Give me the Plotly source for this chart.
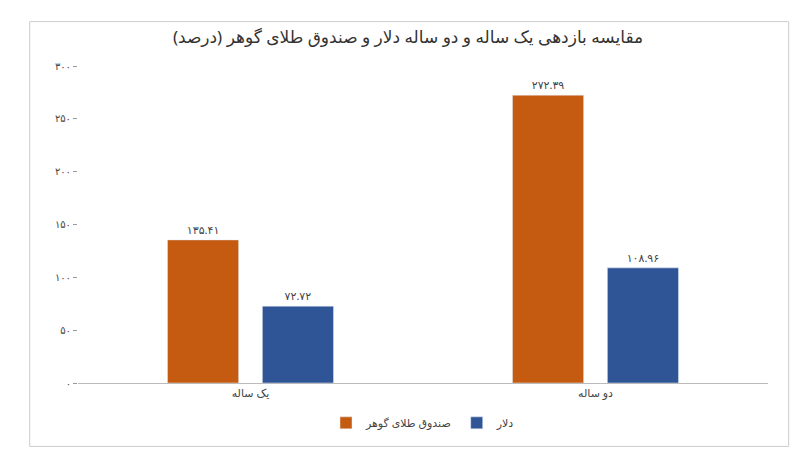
import plotly.graph_objects as go

categories = ["یک ساله", "دو ساله"]
gold = [135.41, 272.39]
dollar = [72.72, 108.96]
gold_labels = ["۱۳۵.۴۱", "۲۷۲.۳۹"]
dollar_labels = ["۷۲.۷۲", "۱۰۸.۹۶"]
tick_vals = [0, 50, 100, 150, 200, 250, 300]
tick_text = ["۰", "۵۰", "۱۰۰", "۱۵۰", "۲۰۰", "۲۵۰", "۳۰۰"]

fig = go.Figure()
fig.add_bar(x=categories, y=gold, name="صندوق طلای گوهر", marker_color="#C55A11",
            text=gold_labels, textposition="outside", textfont=dict(size=11, color="#444"))
fig.add_bar(x=categories, y=dollar, name="دلار", marker_color="#2F5597",
            text=dollar_labels, textposition="outside", textfont=dict(size=11, color="#444"))

fig.update_layout(
    width=800, height=450, paper_bgcolor="white", plot_bgcolor="white",
    font=dict(family="Noto Sans, DejaVu Sans", color="#444"),
    title=dict(text="مقایسه بازدهی یک ساله و دو ساله دلار و صندوق طلای گوهر (درصد)",
               x=0.5, y=0.935, xanchor="center", yanchor="middle", font=dict(size=17, color="#333")),
    barmode="group", bargap=0.45, bargroupgap=0.25,
    margin=dict(l=70, r=40, t=58, b=75),
    legend=dict(orientation="h", x=0.5, xanchor="center", y=-0.08, yanchor="top",
                font=dict(size=11)),
    xaxis=dict(showline=True, linecolor="#bbb", tickfont=dict(size=11)),
    yaxis=dict(range=[0, 300], tickvals=tick_vals, ticktext=tick_text, showgrid=False,
               zeroline=False, ticks="outside", ticklen=4, tickcolor="#999",
               tickfont=dict(size=10)),
    shapes=[dict(type="rect", xref="paper", yref="paper", x0=-0.07, x1=1.03,
                 y0=-0.2, y1=1.14, line=dict(color="#ccc", width=1))],
)
fig.write_html("out.html")
